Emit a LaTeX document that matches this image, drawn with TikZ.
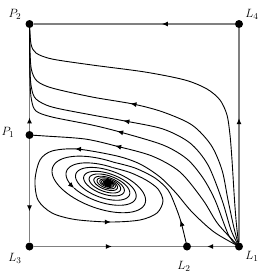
\documentclass[tikz,border=0pt]{standalone}
\usetikzlibrary{arrows.meta,decorations.markings}
\begin{document}
\begin{tikzpicture}[x=1pt,y=-1pt,
  dot/.style={circle,fill=black,inner sep=0pt,minimum size=8pt},
  edgeline/.style={draw=black!50,line width=1.5pt},
  traj/.style={draw=black,line width=0.9pt},
  tipend/.style={-{Latex[length=6pt,width=5pt,color=black]}},
  arrowat/.style={postaction={decorate,decoration={markings,
     mark=at position #1 with {\arrow{Latex[length=6pt,width=5pt,color=black]}}}}},
  lab/.style={inner sep=0pt,font=\fontsize{13}{15}\selectfont},
  declare function={
    spx(\u,\s)=108+\s*exp(-0.001513*(\u-90))*(-0.06+0.94*cos(\u)+0.154*sin(\u));
    spy(\u,\s)=183+\s*exp(-0.001513*(\u-90))*(0.10+0.342*cos(\u)-0.423*sin(\u));
  }]
\useasboundingbox (0,0) rectangle (261,279);

% equilibria
\node[dot] (P2) at (29.5,24) {};
\node[dot] (L4) at (239,24) {};
\node[dot] (P1) at (29.5,135) {};
\node[dot] (L3) at (29.5,246.5) {};
\node[dot] (L2) at (187,246.5) {};
\node[dot] (L1) at (239,246.5) {};
\node[dot] (S)  at (108,183) {};

% labels
\node[lab] (tP2) at (15,14) {$P_2$};
\node[lab] (tL4) at (252,14) {$L_4$};
\node[lab] (tP1) at (8,132) {$P_1$};
\node[lab] (tL3) at (15,258) {$L_3$};
\node[lab] (tL2) at (184,266) {$L_2$};
\node[lab] (tL1) at (252,256) {$L_1$};

% boundary
\draw[edgeline,arrowat=0.363] (L4) -- (P2);
\draw[edgeline,arrowat=0.58] (L1) -- (L4);
\draw[edgeline,arrowat=0.13] (P1) -- (P2);
\draw[edgeline,arrowat=0.70] (P1) -- (L3);
\draw[edgeline,arrowat=0.525] (L3) -- (L2);
\draw[edgeline,arrowat=0.635] (L1) -- (L2);

% trajectories from L1 to P2
\draw[traj] plot[smooth] coordinates {(L1.center) (236.5,225) (234.5,200) (232,160) (230,135) (227,115) (220,100) (207,89) (185,80) (145,72) (92,65) (52,59) (36,53) (31,44) (P2.center)};
\draw[traj,arrowat=199pt] plot[smooth] coordinates {(L1.center) (234,228) (228,200) (222,170) (211,145) (192,125) (163,112) (133,104) (92,97) (52,88) (37,81) (31.5,70) (30,52) (P2.center)};
\draw[traj,arrowat=187pt] plot[smooth] coordinates {(L1.center) (231,230) (222,200) (208,165) (190,143) (163,129) (125,121) (92,115) (52,107) (36,99) (31.5,88) (30,70) (P2.center)};
\draw[traj,arrowat=179pt] plot[smooth] coordinates {(L1.center) (229,236) (215,200) (203,178) (187,159) (163,145) (120,132) (92,125) (52,117) (36,111) (31.5,100) (30,80) (P2.center)};

% L1 to P1
\draw[traj,arrowat=166pt] plot[smooth] coordinates {(L1.center) (218,224) (203,200) (180,172) (152,156) (116,146) (85,139) (45,136) (P1.center)};

% L1 spiralling into the focus
\coordinate (F0) at ({spx(90,48)},{spy(90,48)});
\draw[traj,arrowat=197pt,arrowat=356pt] plot[smooth] coordinates {(L1.center) (214,232) (192,212) (176,193) (160,177) (140,164) (117,156) (77,149) (52,151) (40,160) (35,180) (38,200) (52,213) (75,219.5) (110,222) (140,220) (157,213) (163,201) (158,189) (146,180) (130,172.5) (F0)};
\draw[traj,tipend] plot[domain=90:222,samples=30,smooth,variable=\t] ({spx(\t,48)},{spy(\t,48)});
\draw[traj] plot[domain=222:1800,samples=320,smooth,variable=\t] ({spx(\t,48)},{spy(\t,48)});

% L2 spiralling into the focus
\coordinate (G0) at ({spx(90,64)},{spy(90,64)});
\draw[traj,arrowat=27pt] plot[smooth] coordinates {(L2.center) (181,222) (175,205) (168,190) (155,178) (135,168) (G0)};
\draw[traj] plot[domain=90:1980,samples=380,smooth,variable=\t] ({spx(\t,64)},{spy(\t,64)});

\node[dot] (S2) at (S) {};
\end{tikzpicture}
\end{document}
